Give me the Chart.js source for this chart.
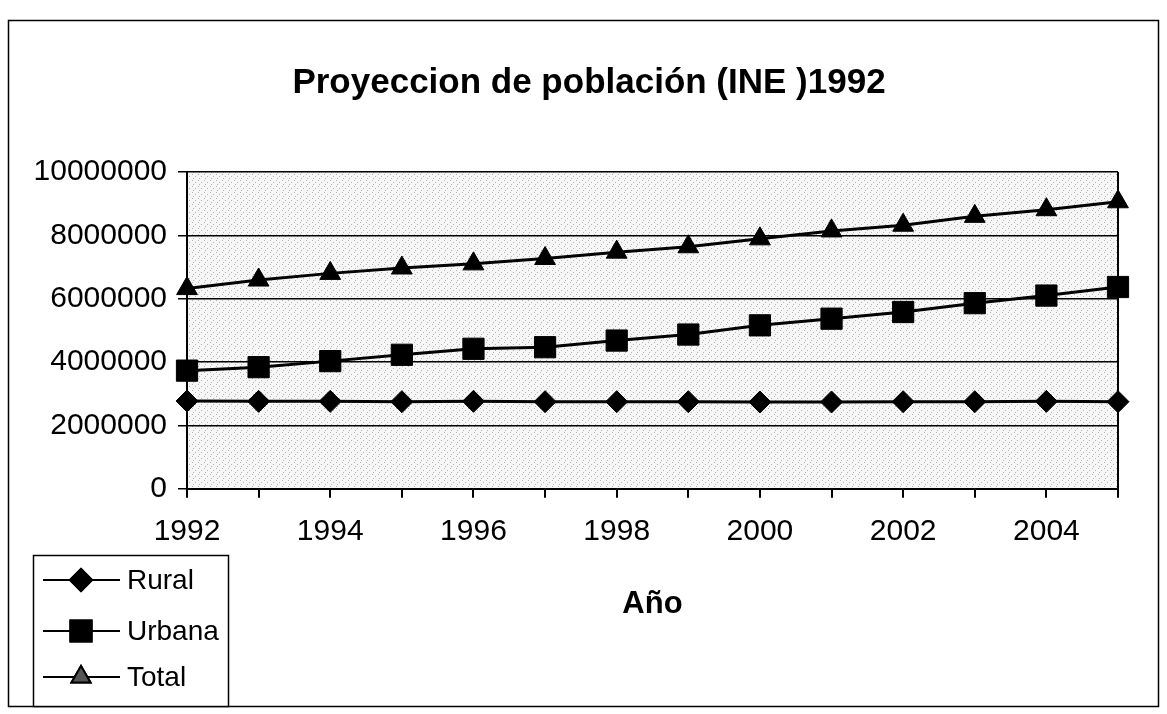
<!DOCTYPE html>
<html>
<head>
<meta charset="utf-8">
<script src="https://cdn.jsdelivr.net/npm/chart.js@4/dist/chart.umd.min.js"></script>
<style>
  html, body { margin: 0; padding: 0; background: #fff; }
  #wrap { width: 1167px; height: 714px; }
</style>
</head>
<body>
<div id="wrap"><canvas id="lineChart" width="1167" height="714"></canvas></div>
<script>
// datos
var years = ["1992", "1993", "1994", "1995", "1996", "1997", "1998", "1999", "2000", "2001", "2002", "2003", "2004", "2005"];
var rural = [2770000, 2760000, 2760000, 2750000, 2760000, 2750000, 2750000, 2750000, 2740000, 2740000, 2750000, 2750000, 2760000, 2750000];
var urbana = [3730000, 3840000, 4030000, 4230000, 4420000, 4470000, 4680000, 4870000, 5160000, 5370000, 5580000, 5860000, 6100000, 6370000];
var total = [6320000, 6590000, 6800000, 6970000, 7100000, 7270000, 7470000, 7640000, 7890000, 8140000, 8320000, 8600000, 8810000, 9060000];
var yTicks = [0, 2000000, 4000000, 6000000, 8000000, 10000000];
var titulo = 'Proyeccion de población (INE )1992';

var fontFam = "Arial, 'Liberation Sans', sans-serif";

// fondo punteado del area de trazado
function makePattern() {
    var c = document.createElement('canvas');
    c.width = 6; c.height = 6;
    var g = c.getContext('2d');
    g.fillStyle = '#f6f6f6';
    g.fillRect(0, 0, 6, 6);
    g.fillStyle = '#b4b4b4';
    g.fillRect(0, 0, 1, 1);
    g.fillRect(3, 2, 1, 1);
    g.fillRect(1, 4, 1, 1);
    return g.createPattern(c, 'repeat');
}

var framePlugin = {
    id: 'frame',
    beforeDraw: function(chart) {
        var ctx = chart.ctx, a = chart.chartArea;
        ctx.save();
        ctx.fillStyle = '#fff';
        ctx.fillRect(0, 0, chart.width, chart.height);
        ctx.fillStyle = makePattern();
        ctx.fillRect(a.left, a.top, a.right - a.left, a.bottom - a.top);
        ctx.restore();
    },
    afterDraw: function(chart) {
        var ctx = chart.ctx, a = chart.chartArea;
        ctx.save();
        ctx.strokeStyle = '#000';
        ctx.lineWidth = 1.5;
        ctx.strokeRect(8.5, 20.5, 1150, 686);
        // borde derecho del area
        ctx.lineWidth = 2;
        ctx.beginPath();
        ctx.moveTo(a.right, a.top);
        ctx.lineTo(a.right, a.bottom);
        ctx.stroke();

        // titulo
        ctx.fillStyle = '#000';
        ctx.font = 'bold 35px ' + fontFam;
        ctx.textAlign = 'center';
        ctx.textBaseline = 'alphabetic';
        ctx.fillText(titulo, 589, 93);

        // leyenda
        var lx = 33, ly = 555, lw = 195, lh = 151;
        ctx.lineWidth = 1.5;
        ctx.fillStyle = '#fff';
        ctx.fillRect(lx, ly, lw, lh);
        ctx.strokeRect(lx + 0.5, ly + 0.5, lw, lh);
        var rows = [580, 631, 677];
        chart.data.datasets.forEach(function(ds, i) {
            var y = rows[i];
            ctx.strokeStyle = '#000';
            ctx.lineWidth = 2;
            ctx.beginPath();
            ctx.moveTo(43, y);
            ctx.lineTo(120, y);
            ctx.stroke();
            Chart.helpers.drawPoint(ctx, {
                pointStyle: ds.pointStyle,
                radius: i == 2 ? 11 : (i == 1 ? 15 : 11),
                rotation: 0,
                borderWidth: 1
            }, 81, y);
            ctx.fillStyle = i == 2 ? '#555' : '#000';
            ctx.strokeStyle = '#000';
            ctx.fill();
            ctx.stroke();
            ctx.fillStyle = '#000';
            ctx.font = '28px ' + fontFam;
            ctx.textBaseline = 'middle';
            ctx.textAlign = 'left';
            ctx.fillText(ds.label, 127, y + 1);
        });
        ctx.restore();
    }
};

var ctxL = document.getElementById("lineChart").getContext('2d');
var myLineChart = new Chart(ctxL, {
    type: 'line',
    data: {
        labels: years,
        datasets: [{
            label: "Rural",
            data: rural,
            borderColor: '#000',
            backgroundColor: '#000',
            borderWidth: 3,
            pointStyle: 'rectRot',
            pointRadius: 11,
            pointBorderWidth: 1
        }, {
            label: "Urbana",
            data: urbana,
            borderColor: '#000',
            backgroundColor: '#000',
            borderWidth: 3,
            pointStyle: 'rect',
            pointRadius: 15,
            pointBorderWidth: 1
        }, {
            label: "Total",
            data: total,
            borderColor: '#000',
            backgroundColor: '#000',
            borderWidth: 3,
            pointStyle: 'triangle',
            pointRadius: 12,
            pointBorderWidth: 1
        }]
    },
    options: {
        responsive: false,
        animation: false,
        layout: {
            padding: { left: 30, right: 49, top: 172, bottom: 91 }
        },
        plugins: {
            legend: { display: false },
            tooltip: { enabled: false },
            title: { display: false }
        },
        scales: {
            x: {
                offset: false,
                grid: {
                    display: true,
                    drawOnChartArea: false,
                    drawTicks: true,
                    tickLength: 9,
                    color: '#000',
                    lineWidth: 2
                },
                border: { display: true, color: '#000', width: 2 },
                ticks: {
                    autoSkip: false,
                    maxRotation: 0,
                    padding: 16,
                    color: '#000',
                    font: { family: fontFam, size: 30 },
                    callback: function(v, i) {
                        return i % 2 == 0 ? years[i] : '';
                    }
                },
                title: {
                    display: true,
                    text: 'Año',
                    color: '#000',
                    font: { family: fontFam, size: 31, weight: 'bold' },
                    padding: { top: 20, bottom: 0 }
                }
            },
            y: {
                min: 0,
                max: 10000000,
                afterBuildTicks: function(axis) {
                    axis.ticks = yTicks.map(function(v) { return { value: v }; });
                },
                afterFit: function(axis) {
                    axis.width = 157;
                },
                grid: {
                    color: '#000',
                    lineWidth: 1.5,
                    drawTicks: true,
                    tickLength: 9
                },
                border: { display: true, color: '#000', width: 2 },
                ticks: {
                    padding: 11,
                    color: '#000',
                    font: { family: fontFam, size: 30 },
                    callback: function(v) { return String(v); }
                }
            }
        }
    },
    plugins: [framePlugin]
});
</script>
</body>
</html>
